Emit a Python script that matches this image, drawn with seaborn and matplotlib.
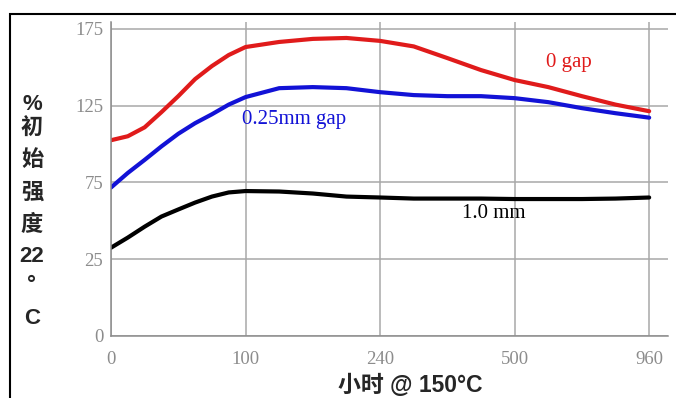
import matplotlib
matplotlib.use("Agg")
import matplotlib.pyplot as plt
import numpy as np
import pandas as pd
import seaborn as sns
from matplotlib.patches import Rectangle

# axis ticks are evenly spaced although the values are not
hour_ticks = [0, 100, 240, 500, 960]
value_ticks = [0, 25, 75, 125, 175]

# readings
hours = [0, 12.5, 25, 37.5, 50, 62.5, 75, 87.5, 100, 135, 170, 205, 240,
         305, 370, 435, 500, 615, 730, 845, 960]
gap_0 = [102.5, 105.1, 110.9, 120.8, 131.2, 142.3, 150.8, 158.0, 163.2, 166.5, 168.5,
         169.1, 167.2, 163.6, 156.0, 148.2, 141.7, 137.1, 131.2, 125.7, 121.4]
gap_025 = [71.7, 81.2, 89.7, 98.5, 106.7, 113.6, 119.4, 125.7, 130.6, 136.4, 137.1,
           136.4, 133.8, 131.9, 131.2, 131.2, 129.9, 127.3, 123.4, 120.1, 117.2]
gap_10 = [32.5, 39.1, 46.2, 52.8, 57.4, 61.9, 65.8, 68.5, 69.4, 69.1, 67.8,
          65.8, 65.2, 64.5, 64.5, 64.5, 64.2, 64.2, 64.2, 64.5, 65.2]

series_names = ['0 gap', '0.25mm gap', '1.0 mm']
colors = {'0 gap': '#e01b1b', '0.25mm gap': '#1212d6', '1.0 mm': '#000000'}
ylabel_chars = ['%', '初', '始', '强', '度', '22', '°', 'C']


def make_scale(ticks):
    # piecewise linear mapping, tick i -> position i (extended one step past the end)
    pts = np.array(ticks + [2 * ticks[-1] - ticks[-2]], float)
    idx = np.arange(len(pts), dtype=float)
    fwd = lambda v: np.interp(v, pts, idx)
    inv = lambda p: np.interp(p, idx, pts)
    return fwd, inv


df = pd.DataFrame({
    'hours': hours * 3,
    'value': gap_0 + gap_025 + gap_10,
    'series': [s for s in series_names for _ in hours],
})

sns.set_style("white")
serif = 'Liberation Serif'
sans = ['Liberation Sans', 'Noto Sans CJK SC']

fig = plt.figure(figsize=(6.76, 3.98), dpi=100)
ax = fig.add_axes([111 / 676, 1 - 336 / 398, (668 - 111) / 676, (336 - 22) / 398])

sns.lineplot(data=df, x='hours', y='value', hue='series', palette=colors,
             linewidth=3, legend=False, sort=False, ax=ax)

xf, xi = make_scale(hour_ticks)
yf, yi = make_scale(value_ticks)
ax.set_xscale('function', functions=(xf, xi))
ax.set_yscale('function', functions=(yf, yi))
ax.set_xlim(0, xi(4.14))
ax.set_ylim(0, yi(4.09))
ax.set_xticks(hour_ticks)
ax.set_yticks(value_ticks)
ax.set_xticklabels([str(t) for t in hour_ticks])
ax.set_yticklabels([str(t) for t in value_ticks])
ax.set_xlabel('')
ax.set_ylabel('')

ax.grid(True, color='#a8a8a8', linewidth=1.1)
for side in ['top', 'right']:
    ax.spines[side].set_visible(False)
for side in ['left', 'bottom']:
    ax.spines[side].set_color('#8c8c8c')
    ax.spines[side].set_linewidth(1.1)
ax.tick_params(axis='both', length=7, width=1.1, color='#a0a0a0',
               labelcolor='#8c8c8c', labelsize=13.5)
ax.tick_params(axis='y', pad=-1.5)
ax.tick_params(axis='x', pad=4)
for lab in ax.get_xticklabels() + ax.get_yticklabels():
    lab.set_fontfamily(serif)

# line labels
ax.text(686, 152.8, '0 gap', color=colors['0 gap'], ha='center', va='center',
        family=serif, size=15)
ax.text(97, 115.7, '0.25mm gap', color=colors['0.25mm gap'], ha='left', va='center',
        family=serif, size=15)
ax.text(398, 55.1, '1.0 mm', color='black', ha='left', va='center',
        family=serif, size=15)

# stacked vertical axis title
ys = [105, 128, 161, 193, 225, 257, 285, 318]
for ch, py in zip(ylabel_chars, ys):
    fig.text(32 / 676, 1 - py / 398, ch, ha='center', va='center',
             family=sans, weight='bold', size=16)

fig.text(410 / 676, 1 - 385 / 398, '小时 @ 150°C', ha='center', va='center',
         family=sans, weight='bold', size=16.5)

# outer frame of the original figure
fig.add_artist(Rectangle((9.5 / 676, -0.5), 2, 1 - 14 / 398 + 0.5,
                         transform=fig.transFigure, fill=False,
                         edgecolor='black', linewidth=1.5, clip_on=False))

fig.savefig('out.png', dpi=100)
